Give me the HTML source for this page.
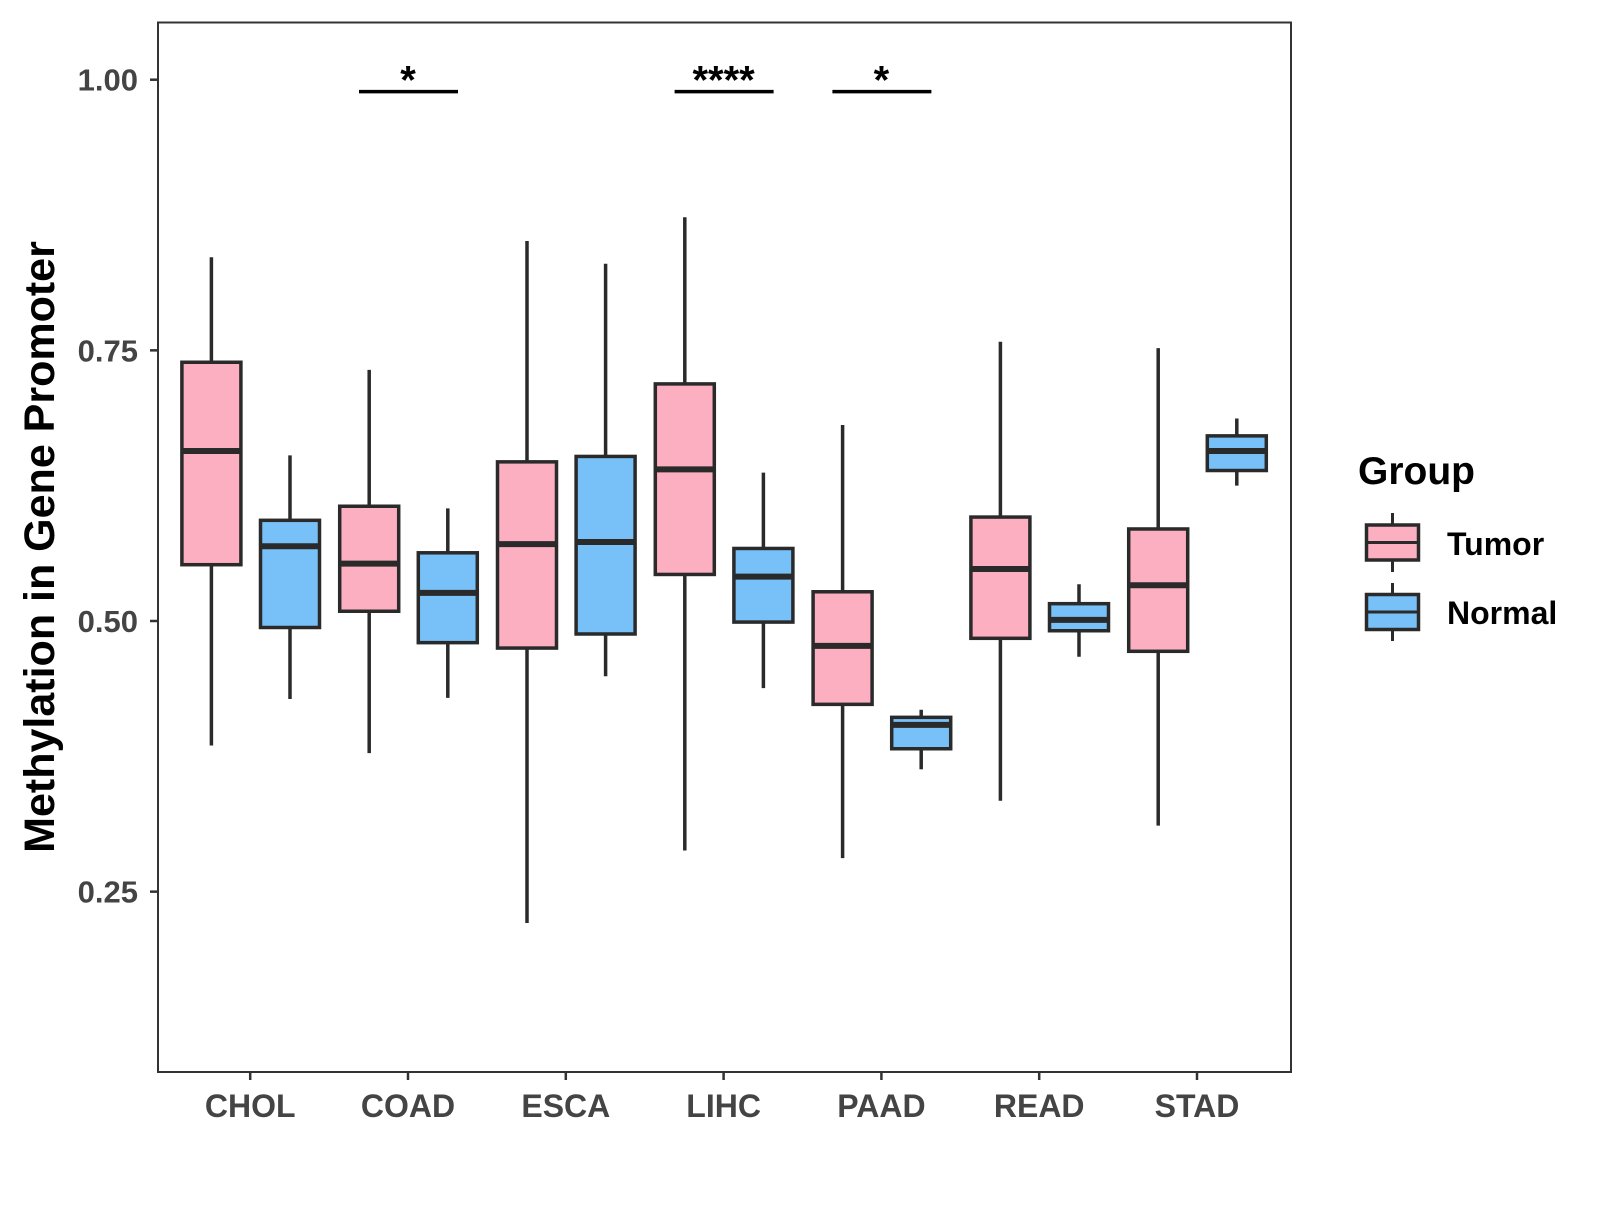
<!DOCTYPE html>
<html><head><meta charset="utf-8"><style>
body{margin:0;background:#fff;}
svg text{font-family:"Liberation Sans",Arial,sans-serif;font-weight:bold;}
</style></head><body>
<svg id="chart" width="1600" height="1200" viewBox="0 0 1600 1200" xmlns="http://www.w3.org/2000/svg">
<rect width="1600" height="1200" fill="#fff"/>
<g id="plot"></g>
<text transform="translate(54,547) rotate(-90)" text-anchor="middle" font-size="43" fill="#000">Methylation in Gene Promoter</text>
<g>
<text x="1358" y="484" font-size="39" fill="#000">Group</text>
<g>
<line x1="1392.5" y1="513" x2="1392.5" y2="572" stroke="#2a2a2a" stroke-width="3"/>
<rect x="1366.5" y="525" width="52" height="35" fill="#fcafc1" stroke="#2a2a2a" stroke-width="3.5"/>
<line x1="1366.5" y1="542.5" x2="1418.5" y2="542.5" stroke="#2a2a2a" stroke-width="3"/>
<text x="1447" y="555" font-size="32" fill="#000">Tumor</text></g>
<g>
<line x1="1392.5" y1="583" x2="1392.5" y2="641" stroke="#2a2a2a" stroke-width="3"/>
<rect x="1366.5" y="594.5" width="52" height="35" fill="#78c1f8" stroke="#2a2a2a" stroke-width="3.5"/>
<line x1="1366.5" y1="612" x2="1418.5" y2="612" stroke="#2a2a2a" stroke-width="3"/>
<text x="1447" y="624" font-size="32" fill="#000">Normal</text></g>
</g>
</svg>
<script>
const categories=["CHOL","COAD","ESCA","LIHC","PAAD","READ","STAD"];
// [min,q1,median,q3,max]
const tumorStats=[[0.385,0.552,0.657,0.739,0.836],[0.378,0.509,0.553,0.606,0.732],[0.221,0.475,0.571,0.647,0.851],[0.288,0.543,0.640,0.719,0.873],[0.281,0.423,0.477,0.527,0.681],[0.334,0.484,0.548,0.596,0.758],[0.311,0.472,0.533,0.585,0.752]];
const normalStats=[[0.428,0.494,0.569,0.593,0.653],[0.429,0.480,0.526,0.563,0.604],[0.449,0.488,0.573,0.652,0.830],[0.438,0.499,0.541,0.567,0.637],[0.363,0.382,0.404,0.411,0.418],[0.467,0.491,0.501,0.516,0.534],[0.625,0.639,0.657,0.671,0.687]];
const yTicks=[0.25,0.50,0.75,1.00];
const yTickLabels=["0.25","0.50","0.75","1.00"];
const sigCategories=["COAD","LIHC","PAAD"];
const sigLabels=["*","****","*"];
const sigLevel=0.989;

const NS="http://www.w3.org/2000/svg";
const L=158,T=22.5,R=1291,B=1072;
const y=v=>79.7+(1-v)*1082.6;
const x=i=>250.2+157.8*i;
const g=document.getElementById('plot');
function mk(tag,attrs,parent){const e=document.createElementNS(NS,tag);for(const k in attrs)e.setAttribute(k,attrs[k]);(parent||g).appendChild(e);return e;}

const panel=mk('rect',{x:L,y:T,width:R-L,height:B-T,fill:'none',stroke:'#333',"stroke-width":2});



yTicks.forEach((t,i)=>{
 const tk=mk('line',{x1:L-8,x2:L,y1:y(t),y2:y(t),stroke:'#333',"stroke-width":2.5});
 
 
 const tx=mk('text',{x:L-20,y:y(t)+11,"text-anchor":"end","font-size":31,fill:'#444'});
 tx.textContent=yTickLabels[i];
 
 
});
categories.forEach((c,i)=>{
 const tk=mk('line',{x1:x(i),x2:x(i),y1:B,y2:B+8,stroke:'#333',"stroke-width":2.5});
 
 
 const tx=mk('text',{x:x(i),y:B+45,"text-anchor":"middle","font-size":32,fill:'#444'});
 tx.textContent=c;
 
 
});
function box(cx,s,fill,name){
 const grp=mk('g',{});
 
 
 const w=59;
 mk('line',{x1:cx,x2:cx,y1:y(s[4]),y2:y(s[0]),stroke:'#2a2a2a',"stroke-width":3.5},grp);
 mk('rect',{x:cx-w/2,y:y(s[3]),width:w,height:y(s[1])-y(s[3]),fill:fill,stroke:'#2a2a2a',"stroke-width":3.5},grp);
 mk('line',{x1:cx-w/2,x2:cx+w/2,y1:y(s[2]),y2:y(s[2]),stroke:'#2a2a2a',"stroke-width":6},grp);
}
categories.forEach((c,i)=>{
 box(x(i)-38.8,tumorStats[i],'#fcafc1','box-tumor-'+c.toLowerCase());
 box(x(i)+39.8,normalStats[i],'#78c1f8','box-normal-'+c.toLowerCase());
});
sigCategories.forEach((c,k)=>{
 const i=categories.indexOf(c);
 const ln=mk('line',{x1:x(i)-49,x2:x(i)+50,y1:y(sigLevel),y2:y(sigLevel),stroke:'#000',"stroke-width":3.5});
 
 
 const tx=mk('text',{x:x(i),y:y(sigLevel)+2,"text-anchor":"middle","font-size":40,fill:'#000'});
 tx.textContent=sigLabels[k];
 
 
});
</script>
</body></html>
